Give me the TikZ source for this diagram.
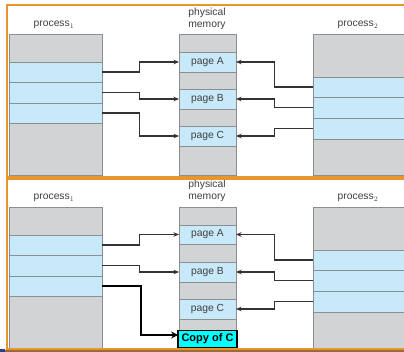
\documentclass[tikz,border=0pt]{standalone}
\usepackage{fontspec}
\setmainfont{Liberation Sans}
\usetikzlibrary{arrows.meta}
\definecolor{cellgray}{HTML}{D1D3D4}
\definecolor{cellblue}{HTML}{C7E9F9}
\definecolor{cellline}{HTML}{8C8E90}
\definecolor{labelgray}{HTML}{404040}
\definecolor{frameorange}{HTML}{E8952B}
\definecolor{arrowgray}{HTML}{333333}
\definecolor{copycyan}{HTML}{00FFFF}
\definecolor{stripbrown}{HTML}{9C6B3C}
\definecolor{stripblue}{HTML}{2A3F8F}
\tikzset{
  cell/.style={draw=cellline, line width=0.6pt, anchor=north west, inner sep=0pt, outer sep=0pt,
    font=\fontsize{10.3}{12}\selectfont, text=labelgray},
  gcell/.style={cell, fill=cellgray},
  bcell/.style={cell, fill=cellblue},
  lbl/.style={font=\fontsize{10.3}{12}\selectfont, text=labelgray, inner sep=0pt, align=center},
  arr/.style={draw=arrowgray, line width=1.3pt, -{Stealth[length=5.5pt,width=4.5pt]}},
  boldarr/.style={draw=black, line width=1.6pt, -{Stealth[length=7pt,width=7pt,inset=2.5pt]}},
  frame/.style={draw=frameorange, line width=1.8pt},
}
\begin{document}
\begin{tikzpicture}[x=1pt,y=-1pt]
\useasboundingbox (0,0) rectangle (404,352);
\fill[white] (0,0) rectangle (404,352);

% ===== Panel 1 =====
% process 1
\node[gcell, minimum width=93pt, minimum height=28pt] (ap1g1) at (9,34) {};
\node[bcell, minimum width=93pt, minimum height=20pt] (ap1b1) at (9,62) {};
\node[bcell, minimum width=93pt, minimum height=21pt] (ap1b2) at (9,82) {};
\node[bcell, minimum width=93pt, minimum height=20pt] (ap1b3) at (9,103) {};
\node[gcell, minimum width=93pt, minimum height=52pt] (ap1g2) at (9,123) {};
% physical memory
\node[gcell, minimum width=57pt, minimum height=18pt] (amg1) at (179,34) {};
\node[bcell, minimum width=57pt, minimum height=20pt] (amA) at (179,52) {page A};
\node[gcell, minimum width=57pt, minimum height=17pt] (amg2) at (179,72) {};
\node[bcell, minimum width=57pt, minimum height=20pt] (amB) at (179,89) {page B};
\node[gcell, minimum width=57pt, minimum height=17pt] (amg3) at (179,109) {};
\node[bcell, minimum width=57pt, minimum height=20pt] (amC) at (179,126) {page C};
\node[gcell, minimum width=57pt, minimum height=29pt] (amg4) at (179,146) {};
% process 2
\node[gcell, minimum width=100pt, minimum height=43pt] (ap2g1) at (313,34) {};
\node[bcell, minimum width=100pt, minimum height=20pt] (ap2b1) at (313,77) {};
\node[bcell, minimum width=100pt, minimum height=21pt] (ap2b2) at (313,97) {};
\node[bcell, minimum width=100pt, minimum height=21pt] (ap2b3) at (313,118) {};
\node[gcell, minimum width=100pt, minimum height=36pt] (ap2g2) at (313,139) {};
% labels
\node[lbl] (at1) at (54,25) {process$_1$};
\node[lbl] (atm) at (207,19) {physical\\memory};
\node[lbl] (at2) at (358,25) {process$_2$};
% elbow columns
\coordinate (el) at (139.5,0);
\coordinate (er) at (274.5,0);
% arrows
\draw[arr] (ap1b1.east) -- (ap1b1.east -| el) |- (amA.west);
\draw[arr] (ap1b2.east) -- (ap1b2.east -| el) |- (amB.west);
\draw[arr] (ap1b3.east) -- (ap1b3.east -| el) |- (amC.west);
\draw[arr] (ap2b1.west) -- (ap2b1.west -| er) |- (amA.east);
\draw[arr] (ap2b2.west) -- (ap2b2.west -| er) |- (amB.east);
\draw[arr] (ap2b3.west) -- (ap2b3.west -| er) |- (amC.east);
% frame
\draw[frame] (410,5) -- (7,5) -- (7,177) -- (410,177);

% ===== Panel 2 =====
\node[gcell, minimum width=93pt, minimum height=28pt] (bp1g1) at (9,207) {};
\node[bcell, minimum width=93pt, minimum height=20pt] (bp1b1) at (9,235) {};
\node[bcell, minimum width=93pt, minimum height=21pt] (bp1b2) at (9,255) {};
\node[bcell, minimum width=93pt, minimum height=20pt] (bp1b3) at (9,276) {};
\node[gcell, minimum width=93pt, minimum height=52pt] (bp1g2) at (9,296) {};
% physical memory
\node[gcell, minimum width=57pt, minimum height=18pt] (bmg1) at (179,207) {};
\node[bcell, minimum width=57pt, minimum height=19pt] (bmA) at (179,225) {page A};
\node[gcell, minimum width=57pt, minimum height=18pt] (bmg2) at (179,244) {};
\node[bcell, minimum width=57pt, minimum height=20pt] (bmB) at (179,262) {page B};
\node[gcell, minimum width=57pt, minimum height=17pt] (bmg3) at (179,282) {};
\node[bcell, minimum width=57pt, minimum height=20pt] (bmC) at (179,299) {page C};
\node[gcell, minimum width=57pt, minimum height=11pt] (bmg4) at (179,319) {};
\node[cell, draw=black, line width=1.2pt, fill=copycyan, text=black,
      font=\fontsize{11}{13}\selectfont\bfseries,
      minimum width=59pt, minimum height=17pt] (bcopy) at (178,330.5) {Copy of C};
% process 2
\node[gcell, minimum width=100pt, minimum height=43pt] (bp2g1) at (313,207) {};
\node[bcell, minimum width=100pt, minimum height=20pt] (bp2b1) at (313,250) {};
\node[bcell, minimum width=100pt, minimum height=21pt] (bp2b2) at (313,270) {};
\node[bcell, minimum width=100pt, minimum height=21pt] (bp2b3) at (313,291) {};
\node[gcell, minimum width=100pt, minimum height=36pt] (bp2g2) at (313,312) {};
% labels
\node[lbl] (bt1) at (54,198) {process$_1$};
\node[lbl] (btm) at (207,191) {physical\\memory};
\node[lbl] (bt2) at (358,198) {process$_2$};
% elbow column for bold arrow
\coordinate (elb) at (141,0);
% arrows
\draw[arr] (bp1b1.east) -- (bp1b1.east -| el) |- (bmA.west);
\draw[arr] (bp1b2.east) -- (bp1b2.east -| el) |- (bmB.west);
\draw[boldarr] (bp1b3.east) -- (bp1b3.east -| elb) |- ([yshift=4pt]bcopy.west);
\draw[arr] (bp2b1.west) -- (bp2b1.west -| er) |- (bmA.east);
\draw[arr] (bp2b2.west) -- (bp2b2.west -| er) |- (bmB.east);
\draw[arr] (bp2b3.west) -- (bp2b3.west -| er) |- (bmC.east);
% frame
\draw[frame] (410,179) -- (7,179) -- (7,349) -- (410,349);

% bottom strip
\fill[stripbrown] (5,350) rectangle (404,352);
\fill[stripblue] (0,348.5) rectangle (5,352);
\end{tikzpicture}
\end{document}
